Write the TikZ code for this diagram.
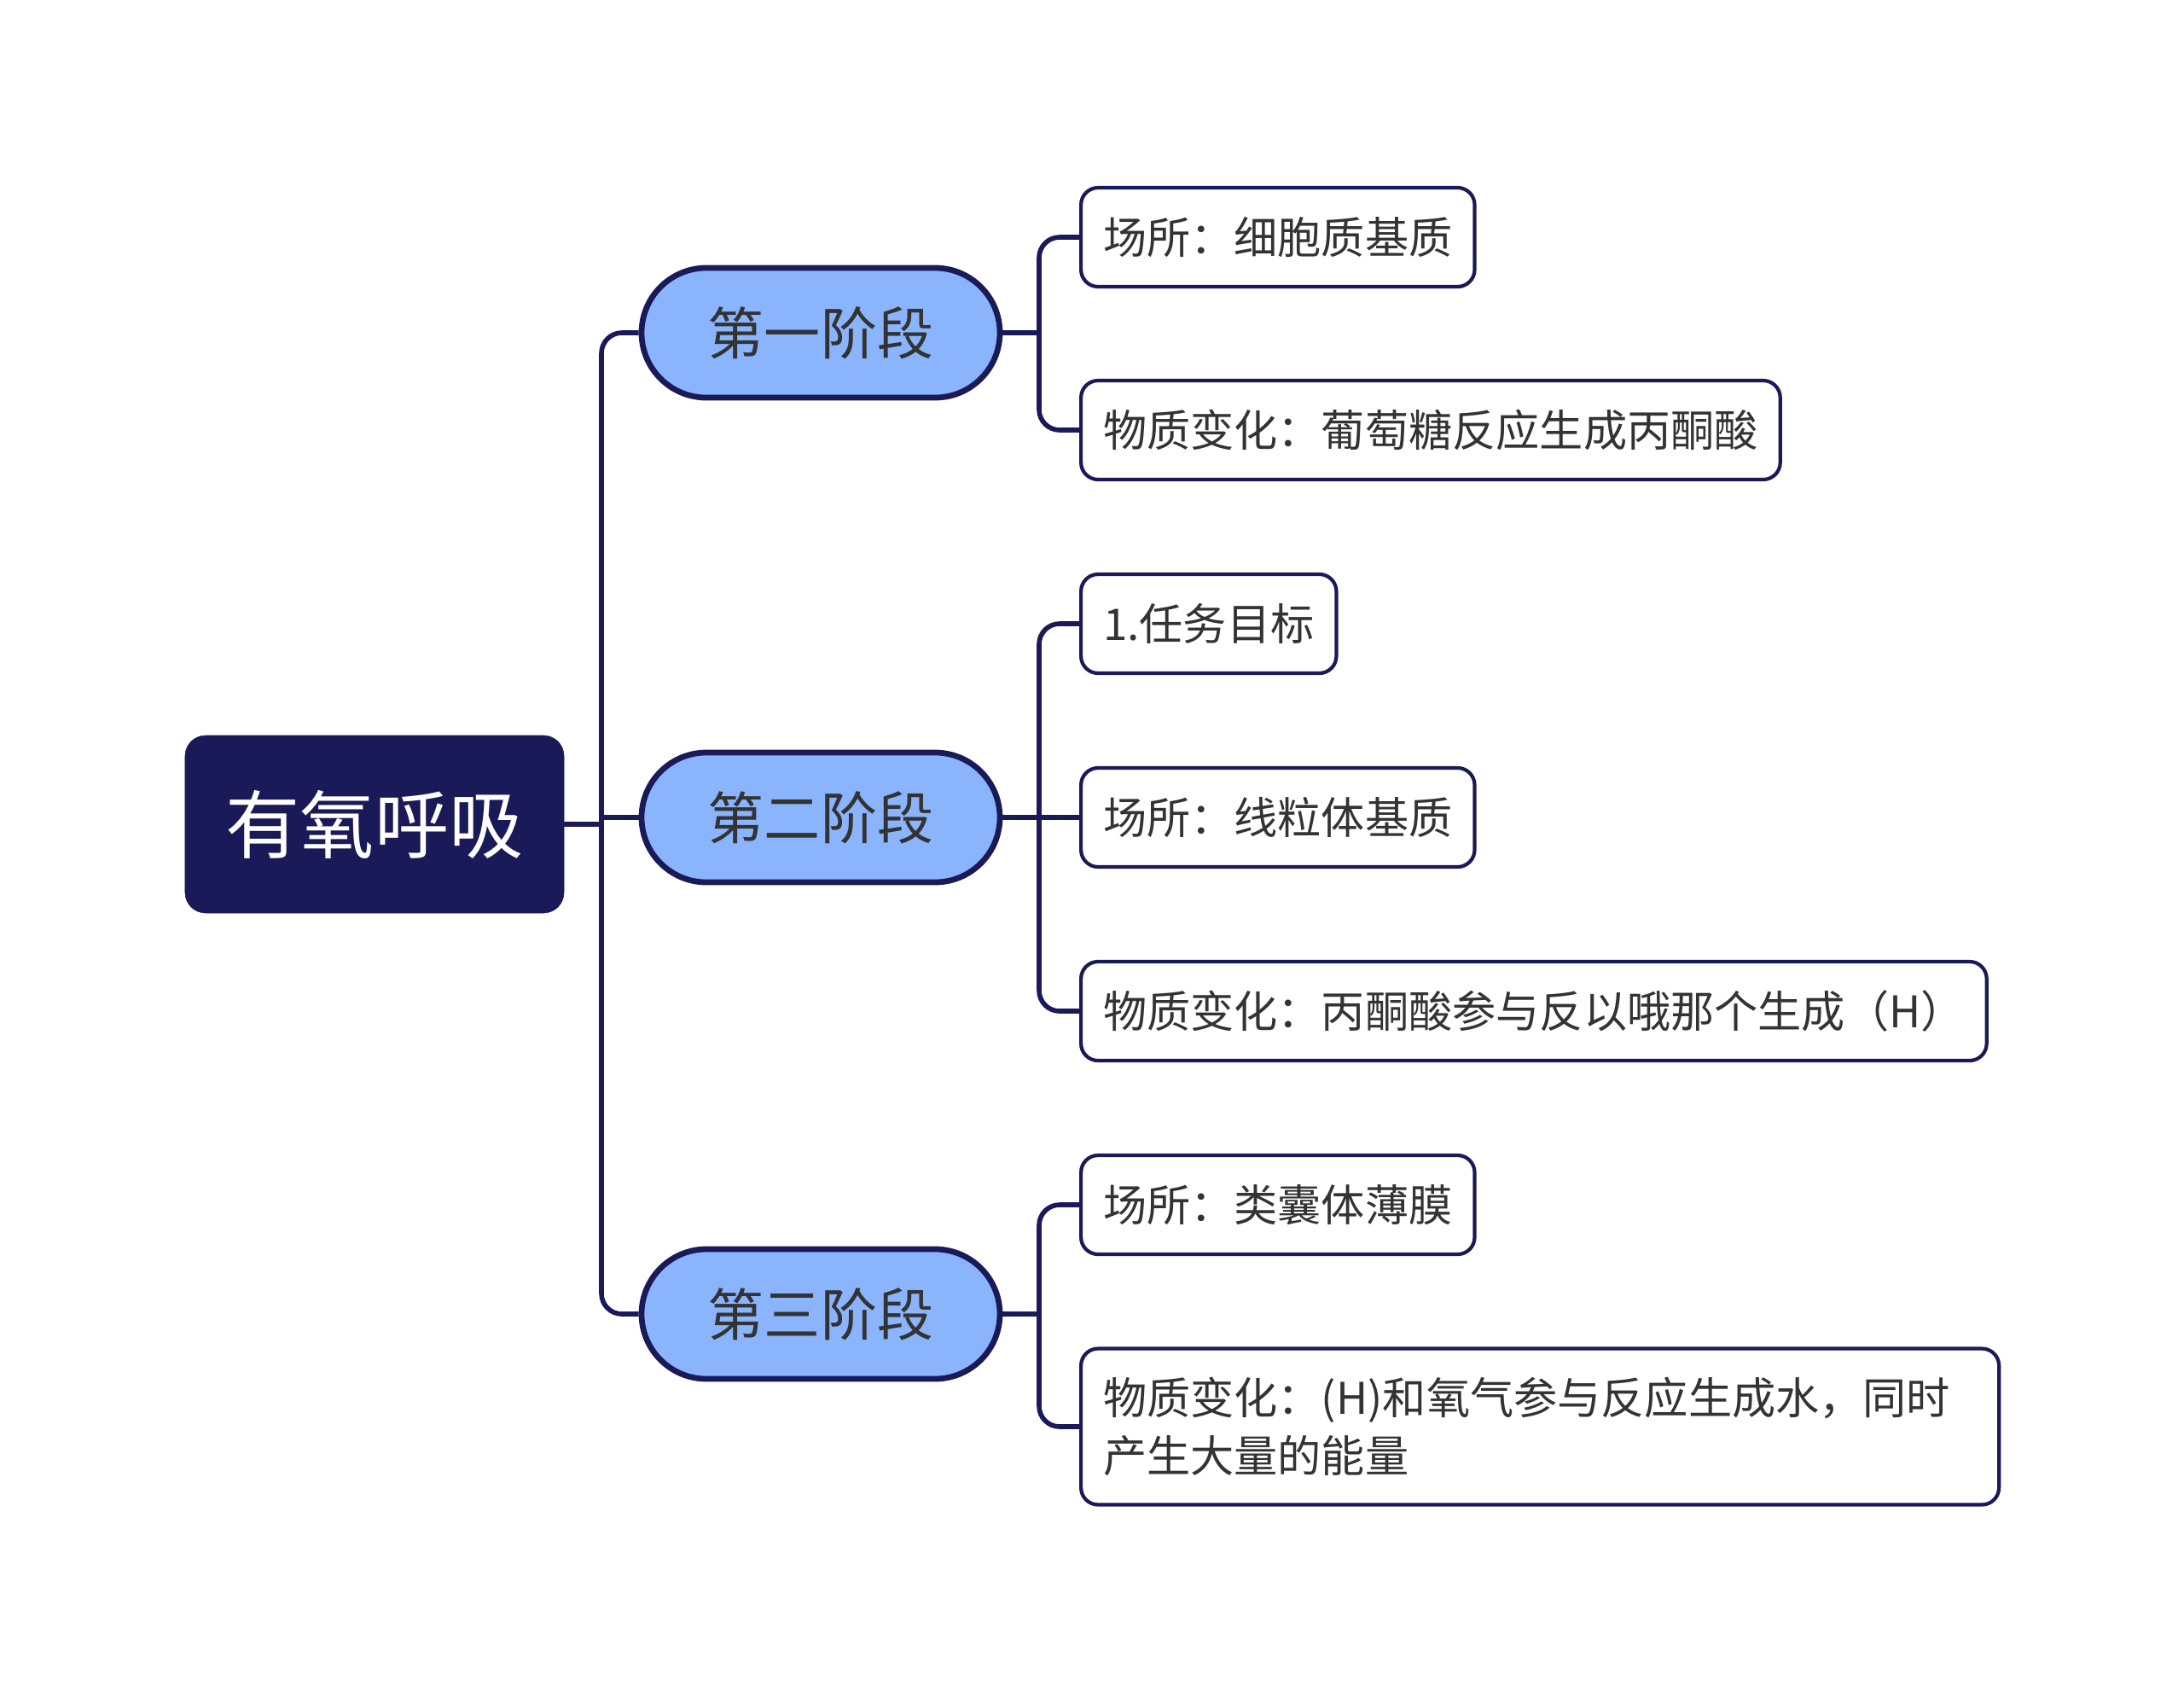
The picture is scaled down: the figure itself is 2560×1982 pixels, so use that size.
\documentclass[tikz,border=0pt]{standalone}
\usepackage{fontspec}
\setmainfont{Noto Sans CJK SC}
\usepackage{xcolor}
\usepackage{tikz}
\usetikzlibrary{positioning}
\definecolor{navy}{RGB}{27,26,89}
\definecolor{stageblue}{RGB}{138,180,252}
\definecolor{ink}{RGB}{51,51,51}

\begin{document}
\begin{tikzpicture}[x=0.25mm,y=-0.25mm,
 rootbox/.style={fill=navy,draw=navy,rounded corners=6mm,text=white,minimum width=111mm,minimum height=52mm,font=\fontsize{62}{70}\selectfont},
 stagebox/.style={draw=navy,line width=4.8pt,fill=stageblue,rounded corners=19mm,minimum width=105mm,minimum height=38mm,text=ink,font=\fontsize{47}{56}\selectfont},
 leafbox/.style={draw=navy,line width=3pt,fill=white,rounded corners=5mm,anchor=west,minimum height=29mm,inner xsep=6.5mm,text=ink,font=\fontsize{36.4}{48.5}\selectfont},
 link/.style={draw=navy,line width=4pt,rounded corners=6mm}]
\useasboundingbox (0,0) rectangle (2560,1982);
\node[rootbox] (root) at (439,966) {有氧呼吸};
\node[stagebox] (s1) at (962,390) {第一阶段};
\node[stagebox] (s2) at (962,958) {第二阶段};
\node[stagebox] (s3) at (962,1540) {第三阶段};
\node[leafbox] (l1) at (1265,278) {场所：细胞质基质};
\node[leafbox] (l2) at (1265,504) {物质变化：葡萄糖反应生成丙酮酸};
\node[leafbox] (l3) at (1265,731) {1.任务目标};
\node[leafbox] (l4) at (1265,958) {场所：线粒体基质};
\node[leafbox] (l5) at (1265,1185) {物质变化：丙酮酸参与反以哦那个生成（H）};
\node[leafbox] (l6) at (1265,1412) {场所：类囊体薄膜};
\node[leafbox,text width=256mm,align=left,minimum height=45.75mm] (l7) at (1265,1672) {物质变化：(H)和氧气参与反应生成水，同时\\产生大量的能量};
\coordinate (hub) at (705,966);
\coordinate (b1) at (1218,390);
\coordinate (b2) at (1218,958);
\coordinate (b3) at (1218,1540);
\draw[link] (root.east) -- (hub);
\draw[link] (s1.west) -| (hub) |- (s3.west);
\draw[link] (s2.west) -- (s2.west -| hub);
\draw[link] (s1.east) -- (b1);
\draw[link] (l1.west) -| (b1) |- (l2.west);
\draw[link] (s2.east) -- (b2);
\draw[link] (l3.west) -| (b2) |- (l5.west);
\draw[link] (b2) -- (l4.west);
\draw[link] (s3.east) -- (b3);
\draw[link] (l6.west) -| (b3) |- (l7.west);
\end{tikzpicture}
\end{document}
